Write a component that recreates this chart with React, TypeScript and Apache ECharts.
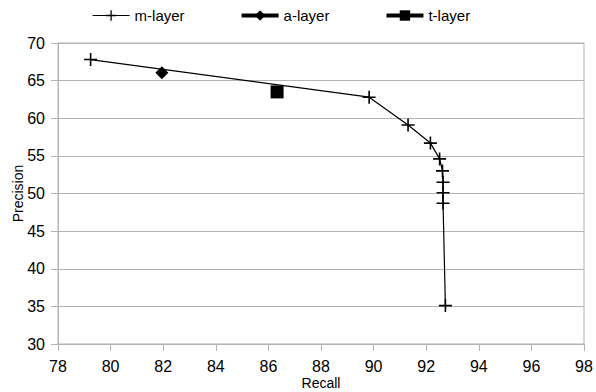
import React, { useEffect, useRef } from "react";
import * as echarts from "echarts";

const mRecall = [79.24, 89.83, 91.31, 92.16, 92.51, 92.62, 92.64, 92.64, 92.64, 92.73];
const mPrecision = [67.8, 62.8, 59.1, 56.7, 54.6, 53.0, 51.5, 50.1, 48.7, 35.1];
const aRecall = [81.95];
const aPrecision = [66.05];
const tRecall = [86.33];
const tPrecision = [63.5];
const seriesNames = ["m-layer", "a-layer", "t-layer"];

const crossPath = "path://M0,5.7H13V7.3H0Z M5.7,0H7.3V13H5.7Z";
const FONT = "'Liberation Sans', Arial, sans-serif";

export default function App() {
  const ref = useRef<HTMLDivElement>(null);
  useEffect(() => {
    if (!ref.current) return;
    const chart = echarts.init(ref.current, null, { renderer: "svg" });
    const zip = (xs: number[], ys: number[]) => xs.map((x, i) => [x, ys[i]]);
    chart.setOption({
      animation: false,
      textStyle: { fontFamily: FONT },
      legend: {
        left: 87,
        top: 3,
        itemWidth: 37,
        itemHeight: 13,
        itemGap: 55,
        textStyle: { fontSize: 15, color: "#000", fontFamily: FONT },
        data: [
          { name: seriesNames[0], lineStyle: { width: 1.2, color: "#000" } },
          { name: seriesNames[1], lineStyle: { width: 4, color: "#000" } },
          { name: seriesNames[2], lineStyle: { width: 4, color: "#000" } },
        ],
      },
      grid: {
        left: 58,
        right: 12,
        top: 43,
        bottom: 48,
        show: true,
        borderColor: "#b3b3b3",
        borderWidth: 1,
        containLabel: false,
        outerBoundsMode: "none",
      },
      xAxis: {
        type: "value",
        min: 78,
        max: 98,
        interval: 2,
        name: "Recall",
        nameLocation: "middle",
        nameMoveOverlap: false,
        nameGap: 32,
        nameTextStyle: { fontSize: 14, color: "#000", fontFamily: FONT },
        axisLine: { show: true, lineStyle: { color: "#b3b3b3" } },
        axisTick: { show: true, length: 7, lineStyle: { color: "#b3b3b3" } },
        axisLabel: { fontSize: 16, color: "#000", margin: 14, fontFamily: FONT },
        splitLine: { show: false },
      },
      yAxis: {
        type: "value",
        min: 30,
        max: 70,
        interval: 5,
        name: "Precision",
        nameLocation: "middle",
        nameMoveOverlap: false,
        nameGap: 33,
        nameTextStyle: { fontSize: 14, color: "#000", fontFamily: FONT },
        axisLine: { show: true, lineStyle: { color: "#b3b3b3" } },
        axisTick: { show: true, length: 7, lineStyle: { color: "#b3b3b3" } },
        axisLabel: { fontSize: 16, color: "#000", margin: 13, fontFamily: FONT },
        splitLine: { show: true, lineStyle: { color: "#b3b3b3", width: 1 } },
      },
      series: [
        {
          name: seriesNames[0],
          type: "line",
          data: zip(mRecall, mPrecision),
          symbol: crossPath,
          symbolSize: 13,
          itemStyle: { color: "#000" },
          lineStyle: { color: "#000", width: 1.2 },
          z: 3,
        },
        {
          name: seriesNames[1],
          type: "line",
          data: zip(aRecall, aPrecision),
          symbol: "diamond",
          symbolSize: 13,
          itemStyle: { color: "#000" },
          lineStyle: { color: "#000", width: 4 },
          z: 4,
        },
        {
          name: seriesNames[2],
          type: "line",
          data: zip(tRecall, tPrecision),
          symbol: "rect",
          symbolSize: 13,
          itemStyle: { color: "#000" },
          lineStyle: { color: "#000", width: 4 },
          z: 4,
        },
      ],
    });
    return () => chart.dispose();
  }, []);
  return <div ref={ref} style={{ width: 596, height: 392, position: "absolute", left: 0, top: 0 }} />;
}
